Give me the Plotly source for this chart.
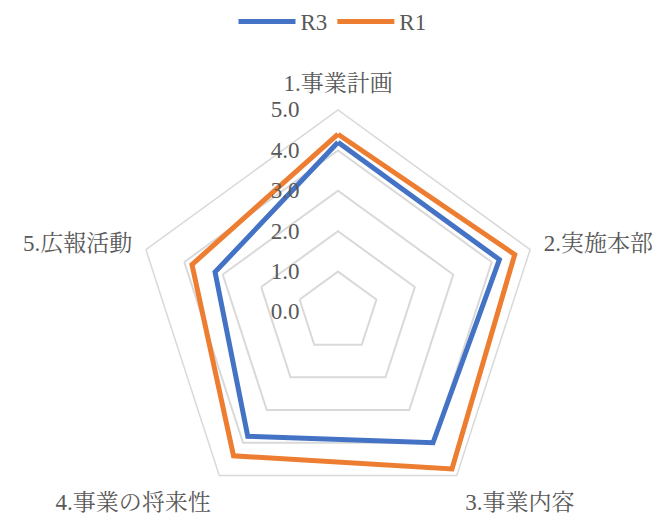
import plotly.graph_objects as go

categories = ["1.事業計画", "2.実施本部", "3.事業内容", "4.事業の将来性", "5.広報活動"]
r3_values = [4.2, 4.2, 4.0, 3.8, 3.2]
r1_values = [4.4, 4.6, 4.8, 4.4, 3.8]
radial_ticks = [0, 1, 2, 3, 4, 5]
radial_ticktext = ["0.0", "1.0", "2.0", "3.0", "4.0", "5.0"]

FONT = "Liberation Serif, Noto Serif CJK JP, Noto Sans CJK JP, serif"
GRAY = "#595959"
GRID = "#d9d9d9"

W, H = 665, 514
cx, cy, R = 338, 312, 202

fig = go.Figure()
fig.add_trace(go.Scatterpolar(
    r=r3_values + r3_values[:1], theta=categories + categories[:1],
    mode="lines", name="R3", line=dict(color="#4472C4", width=5),
))
fig.add_trace(go.Scatterpolar(
    r=r1_values + r1_values[:1], theta=categories + categories[:1],
    mode="lines", name="R1", line=dict(color="#ED7D31", width=5),
))

fig.update_layout(
    width=W, height=H,
    margin=dict(l=0, r=0, t=0, b=0),
    paper_bgcolor="white",
    font=dict(family=FONT, size=23, color=GRAY),
    showlegend=True,
    legend=dict(orientation="h", x=0.5, xanchor="center", y=1.0, yanchor="top",
                font=dict(family=FONT, size=23, color=GRAY), itemwidth=57,
                traceorder="normal"),
    polar=dict(
        domain=dict(x=[(cx - R) / W, (cx + R) / W], y=[0, 2 * R / H]),
        gridshape="linear",
        bgcolor="white",
        radialaxis=dict(
            range=[0, 5], tickvals=radial_ticks, ticktext=radial_ticktext,
            angle=90, tickangle=90, side="counterclockwise",
            showline=False, ticks="outside", ticklen=30,
            tickcolor="rgba(0,0,0,0)", gridcolor=GRID, gridwidth=1.5,
            tickfont=dict(family=FONT, size=23, color=GRAY),
        ),
        angularaxis=dict(
            rotation=90, direction="clockwise",
            showgrid=False, showline=True, linecolor=GRID, linewidth=1.5,
            ticks="outside", ticklen=9, tickcolor="rgba(0,0,0,0)",
            tickfont=dict(family=FONT, size=23, color=GRAY),
        ),
    ),
)

fig.write_html("out.html")
